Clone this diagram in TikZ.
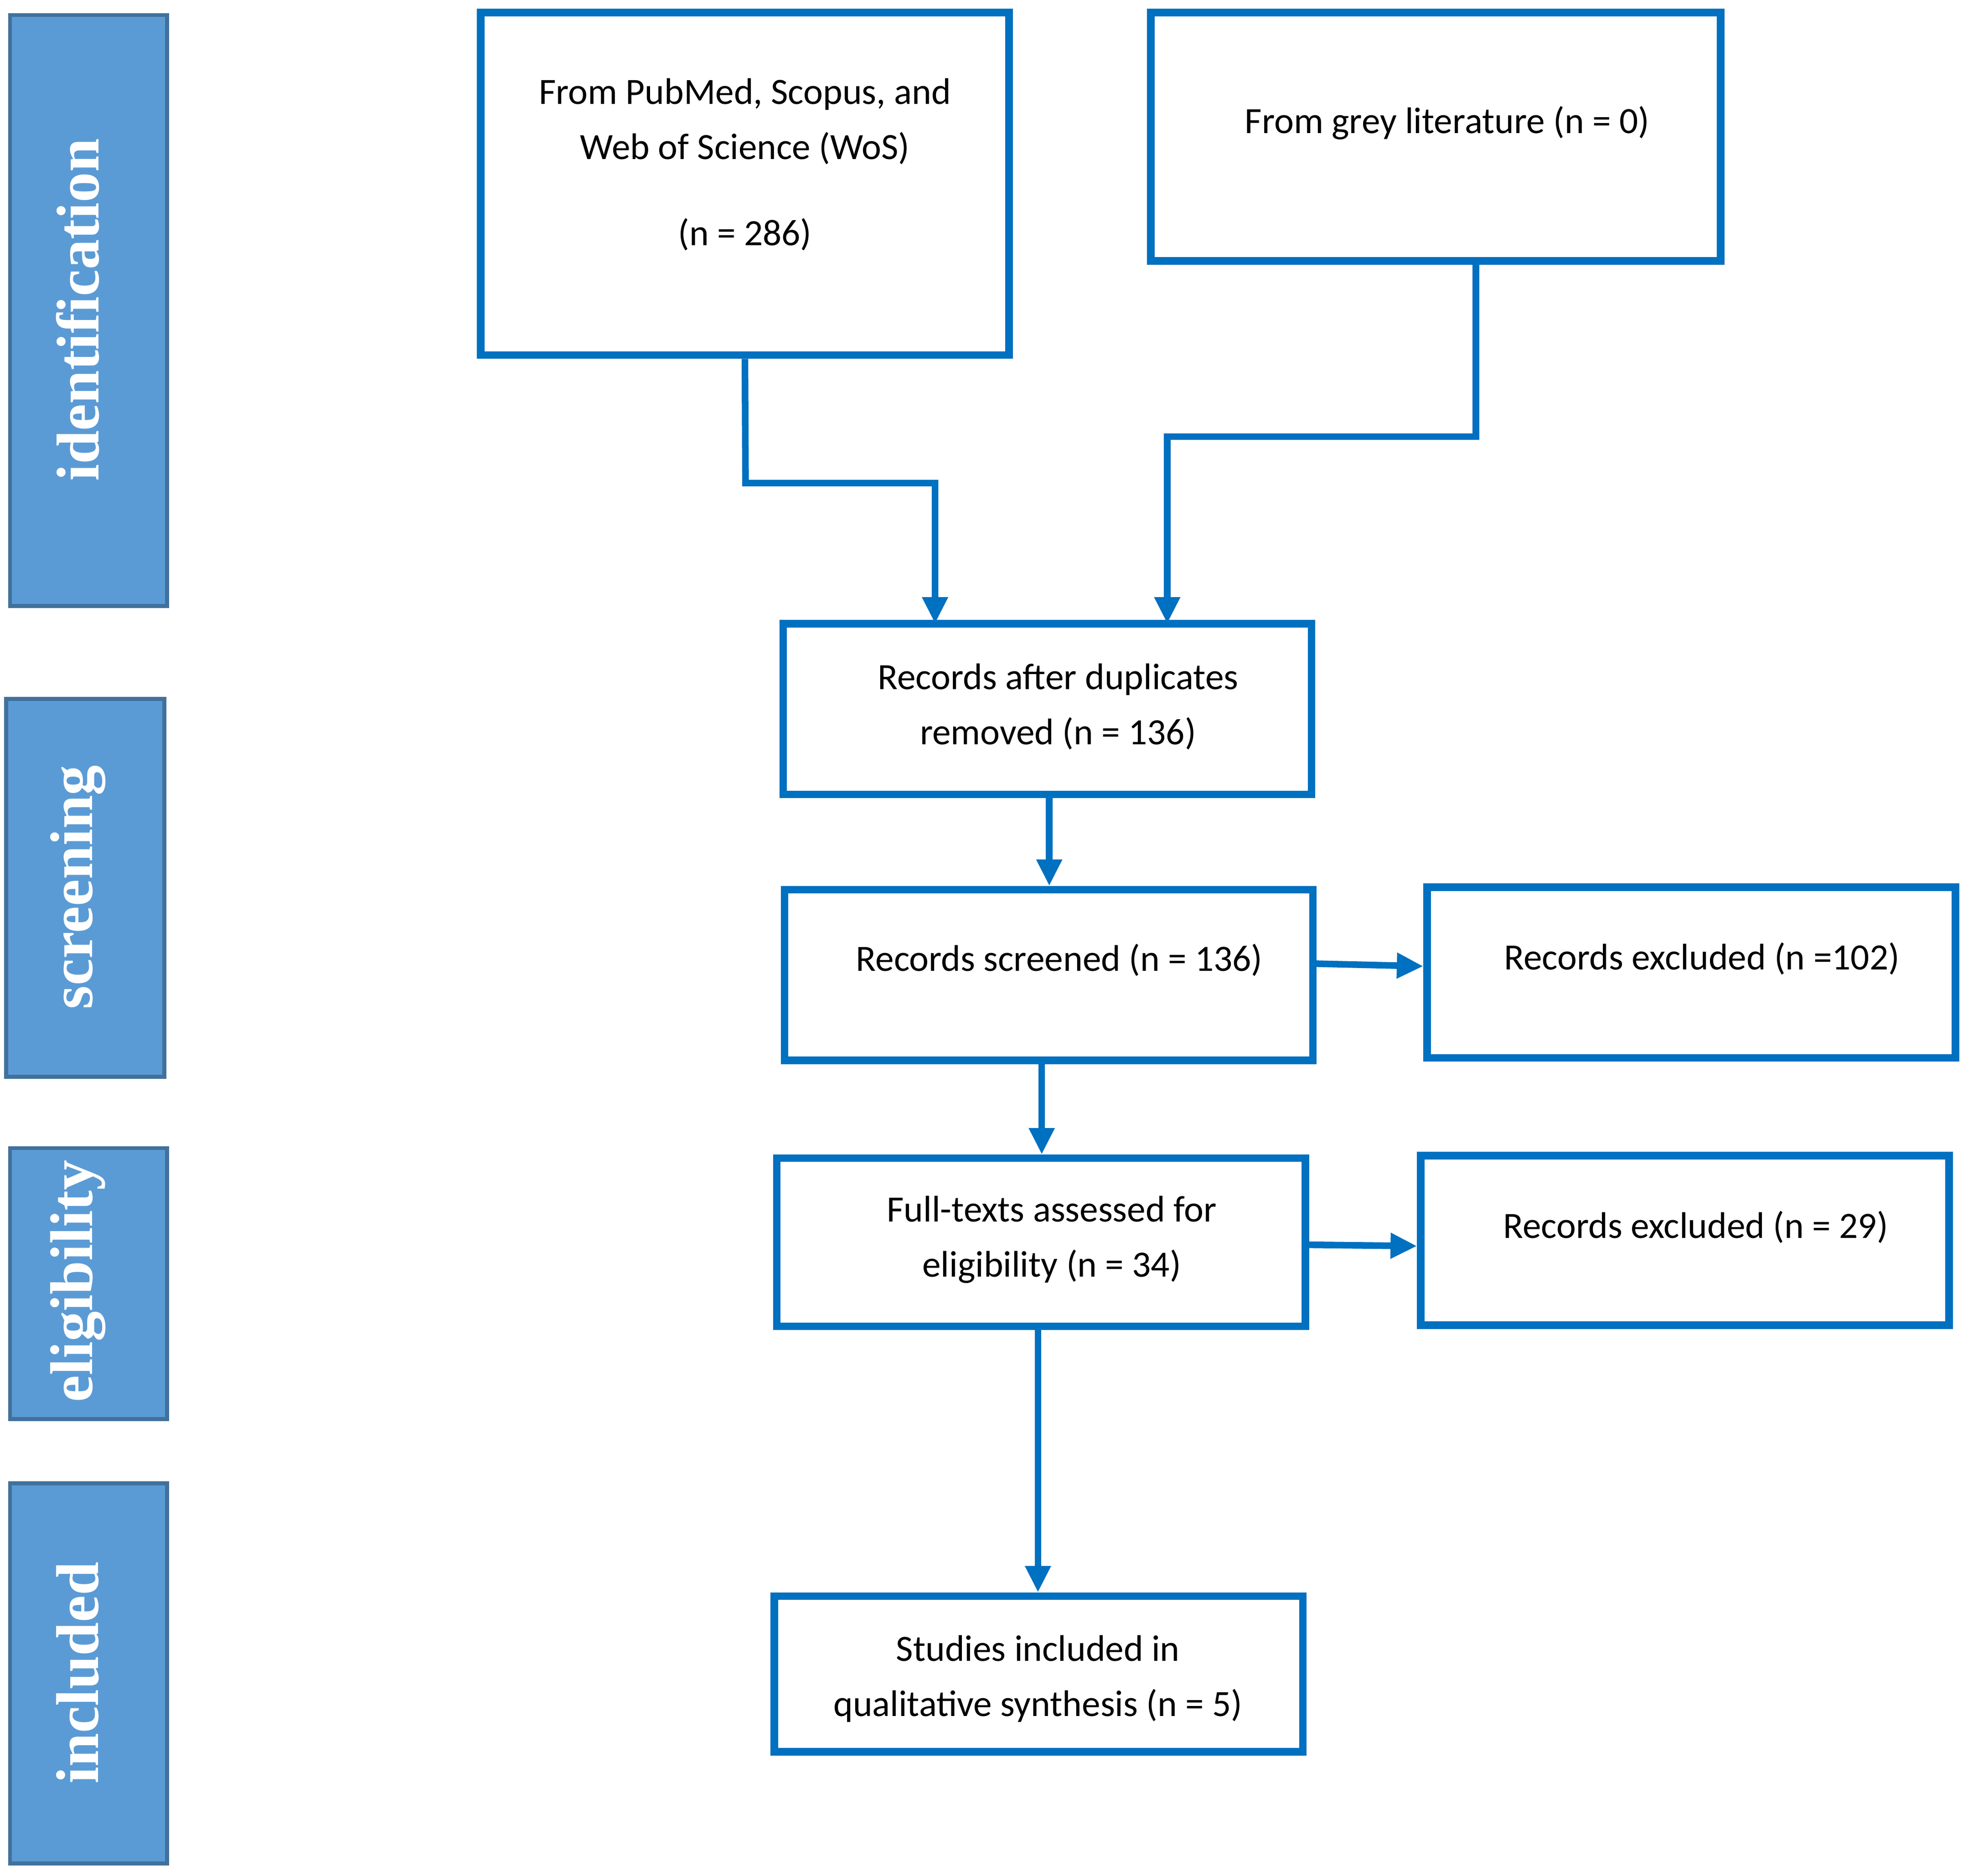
\documentclass[tikz,border=0pt]{standalone}
\usepackage{fontspec}
\setmainfont{Carlito}
\newfontfamily\barfont{Liberation Serif}
\usetikzlibrary{arrows.meta}
\definecolor{pblue}{HTML}{0070C0}
\definecolor{barfill}{HTML}{5B9BD5}
\definecolor{barline}{HTML}{41719C}
\begin{document}
\begin{tikzpicture}[x=0.01cm,y=-0.01cm,
  bar/.style={draw=barline,fill=barfill,line width=0.9pt,inner sep=0pt},
  bartext/.style={rotate=90,text=white,font=\barfont\bfseries\fontsize{13.7pt}{16pt}\selectfont},
  txt/.style={align=center,font=\fontsize{8.4pt}{12.5pt}\selectfont},
  box/.style={draw=pblue,line width=1.7pt,inner sep=0pt,align=center,
    font=\fontsize{8.4pt}{12.5pt}\selectfont},
  arr/.style={draw=pblue,line width=1.5pt,-{Triangle[length=6pt,width=5.5pt]}}]
\useasboundingbox (0,0) rectangle (1568,1495);
% side bars
\node[bar,minimum width=125*0.01cm,minimum height=471*0.01cm] (bi) at (70.5,247.5) {};
\node[bartext] (ti) at (62,247) {identification};
\node[bar,minimum width=126*0.01cm,minimum height=301*0.01cm] (bs) at (68,707.5) {};
\node[bartext] (ts) at (62,707) {screening};
\node[bar,minimum width=125*0.01cm,minimum height=216*0.01cm] (be) at (70.5,1023) {};
\node[bartext] (te) at (62,1021) {eligibility};
\node[bar,minimum width=125*0.01cm,minimum height=303*0.01cm] (bn) at (70.5,1333.5) {};
\node[bartext] (tn) at (62,1333) {included};
% boxes
\node[box,minimum width=421*0.01cm,minimum height=273*0.01cm] (b1) at (593.5,146.5) {};
\node[txt] (t1) at (593.5,131) {From PubMed, Scopus, and\\Web of Science (WoS)\\[7pt](n = 286)};
\node[box,minimum width=454*0.01cm,minimum height=198*0.01cm] (b2) at (1144,109) {};
\node[txt] (t2) at (1153,98) {From grey literature (n = 0)};
\node[box,minimum width=421*0.01cm,minimum height=136*0.01cm] (b3) at (834.5,565) {};
\node[txt] (t3) at (843,563) {Records after duplicates\\removed (n = 136)};
\node[box,minimum width=421*0.01cm,minimum height=136*0.01cm] (b4) at (835.5,777) {};
\node[txt] (t4) at (844,765) {Records screened (n = 136)};
\node[box,minimum width=421*0.01cm,minimum height=136*0.01cm] (b5) at (1347.5,775) {};
\node[txt] (t5) at (1356,764) {Records excluded (n =102)};
\node[box,minimum width=421*0.01cm,minimum height=134*0.01cm] (b6) at (829.5,990) {};
\node[txt] (t6) at (838,988) {Full-texts assessed for\\eligibility (n = 34)};
\node[box,minimum width=421*0.01cm,minimum height=135*0.01cm] (b7) at (1342.5,988.5) {};
\node[txt] (t7) at (1351,978) {Records excluded (n = 29)};
\node[box,minimum width=421*0.01cm,minimum height=124*0.01cm] (b8) at (827.5,1334) {};
\node[txt] (t8) at (827,1338) {Studies included in\\qualitative synthesis (n = 5)};
% connectors
\coordinate (c1) at (594,385);
\coordinate (c2) at (1176,348);
\draw[arr] (b1.south) -- (c1) -- (745,385) -- (745,497);
\draw[arr] (b2.south -| c2) -- (c2) -- (930,348) -- (930,497);
\draw[arr] (b3.south -| 836,0) -- (b4.north -| 836,0);
\draw[arr] (b4.south -| 830,0) -- (b6.north -| 830,0);
\draw[arr] (b4.east |- 0,768) -- (b5.west |- 0,770);
\draw[arr] (b6.east |- 0,992) -- (b7.west |- 0,993);
\draw[arr] (b6.south -| 827,0) -- (b8.north -| 827,0);
\end{tikzpicture}
\end{document}
